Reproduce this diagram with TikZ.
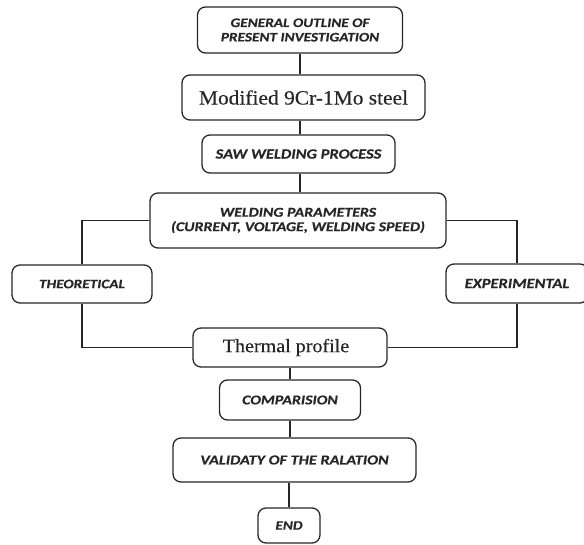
\documentclass[tikz,border=0pt]{standalone}
\usepackage{fontspec}
\setmainfont[FakeStretch=1.06, FakeBold=0.3]{Liberation Serif}
\newfontfamily\calfont[FakeStretch=1.18, BoldItalicFeatures={FakeBold=0.5}]{Carlito}
\definecolor{ink}{HTML}{262626}
\tikzset{
  box/.style={draw=ink, line width=1.3pt, rounded corners=8pt, inner sep=0pt, text=ink, align=center},
  caps/.style={font=\calfont\bfseries\itshape\fontsize{#1}{14.5}\selectfont},
  caps/.default=13.5,
  serif/.style={font=\fontsize{#1}{22}\selectfont},
  serif/.default=19,
  link/.style={draw=ink, line width=1.3pt}
}
\begin{document}
\begin{tikzpicture}[x=1bp,y=-1bp]
\useasboundingbox (0,0) rectangle (584,545);
\clip (0,0) rectangle (584,545);
\node[box, caps=13, minimum width=205bp, minimum height=46bp] (gen) at (300,30) {GENERAL OUTLINE OF\\PRESENT INVESTIGATION};
\node[box, serif=20.3, minimum width=243bp, minimum height=45bp] (mod) at (303.5,97.5) {Modified 9Cr-1Mo steel};
\node[box, caps=14, minimum width=193bp, minimum height=38bp] (saw) at (298.5,154) {SAW WELDING PROCESS};
\node[box, caps=13.5, minimum width=296bp, minimum height=55bp] (wp) at (298,220.5) {WELDING PARAMETERS\\(CURRENT, VOLTAGE, WELDING SPEED)};
\node[box, caps=13, minimum width=140bp, minimum height=38bp] (theo) at (82,284) {THEORETICAL};
\node[box, caps=14, minimum width=142bp, minimum height=39bp] (exp) at (517,283.5) {EXPERIMENTAL};
\node[box, serif, minimum width=194bp, minimum height=39bp] (therm) at (290,347.5) {Thermal profile\hspace*{8bp}};
\node[box, caps=13.5, minimum width=141bp, minimum height=40bp] (comp) at (290,400) {COMPARISION};
\node[box, caps=13.8, minimum width=243bp, minimum height=44bp] (val) at (294.5,460) {VALIDATY OF THE RALATION};
\node[box, caps=13, minimum width=62bp, minimum height=35bp] (end) at (289,525.5) {END};
\path[link] (gen.south) -- (gen.south |- mod.north);
\path[link] (gen.south |- mod.south) -- (gen.south |- saw.north);
\path[link] (gen.south |- saw.south) -- (gen.south |- wp.north);
\path[link] (wp.west) -| (theo.north);
\path[link] (wp.east) -| (exp.north);
\path[link] (theo.south) |- (therm.west);
\path[link] (exp.south) |- (therm.east);
\path[link] (therm.south) -- (comp.north);
\path[link] (comp.south) -- (comp.south |- val.north);
\path[link] (end.north |- val.south) -- (end.north);
\end{tikzpicture}
\end{document}
